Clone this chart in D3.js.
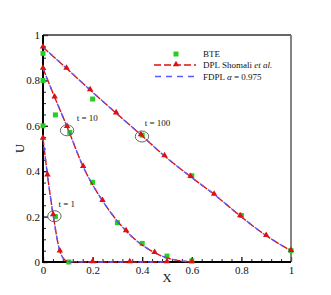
<!DOCTYPE html>
<html>
<head>
<meta charset="utf-8">
<script src="https://cdn.jsdelivr.net/npm/d3@7"></script>
<style>
  html, body { margin: 0; padding: 0; background: #fff; }
  text { font-family: "Liberation Serif", "Times New Roman", serif; fill: #111; }
</style>
</head>
<body>
<svg id="chart" width="331" height="295"></svg>
<script>
// axis ticks
const xTicks = [0, 0.2, 0.4, 0.6, 0.8, 1];
const xTickLabels = ["0", "0.2", "0.4", "0.6", "0.8", "1"];
const yTicks = [0, 0.2, 0.4, 0.6, 0.8, 1];
const yTickLabels = ["0", "0.2", "0.4", "0.6", "0.8", "1"];

// DPL Shomali et al. (line nodes), t = 1, 10, 100
const dplX1 = [0, 0.018, 0.041, 0.068, 0.085, 0.1, 0.2, 0.35, 0.5];
const dplU1 = [0.545, 0.383, 0.207, 0.048, 0.012, 0.002, 0, 0, 0];
const dplX10 = [0, 0.047, 0.097, 0.162, 0.24, 0.335, 0.45, 0.5, 0.55, 0.6];
const dplU10 = [0.853, 0.726, 0.596, 0.42, 0.27, 0.137, 0.041, 0.018, 0.006, 0];
const dplX100 = [0, 0.095, 0.19, 0.295, 0.395, 0.49, 0.595, 0.69, 0.795, 0.9, 1];
const dplU100 = [0.946, 0.853, 0.758, 0.656, 0.56, 0.467, 0.376, 0.298, 0.203, 0.116, 0.05];

// triangle markers on the DPL curves
const markX1 = [0, 0.018, 0.041, 0.068, 0.2, 0.35, 0.5];
const markU1 = [0.545, 0.383, 0.207, 0.048, 0, 0, 0];
const markX10 = [0, 0.047, 0.097, 0.162, 0.24, 0.335, 0.45, 0.6];
const markU10 = [0.853, 0.726, 0.596, 0.42, 0.27, 0.137, 0.041, 0];
const markX100 = dplX100;
const markU100 = dplU100;

// FDPL alpha = 0.975 (overlaps the DPL curves)
const fdplX1 = [0, 0.018, 0.041, 0.068, 0.085, 0.1, 0.2, 0.35, 0.5];
const fdplU1 = [0.545, 0.383, 0.207, 0.048, 0.012, 0.002, 0, 0, 0];
const fdplX10 = [0, 0.047, 0.097, 0.162, 0.24, 0.335, 0.45, 0.5, 0.55, 0.6];
const fdplU10 = [0.853, 0.726, 0.596, 0.42, 0.27, 0.137, 0.041, 0.018, 0.006, 0];
const fdplX100 = [0, 0.095, 0.19, 0.295, 0.395, 0.49, 0.595, 0.69, 0.795, 0.9, 1];
const fdplU100 = [0.946, 0.853, 0.758, 0.656, 0.56, 0.467, 0.376, 0.298, 0.203, 0.116, 0.05];

// BTE squares
const bteX1 = [0, 0.05, 0.104];
const bteU1 = [0.6, 0.2, 0];
const bteX10 = [0, 0.05, 0.108, 0.2, 0.3, 0.4, 0.5, 0.6];
const bteU10 = [0.8, 0.648, 0.571, 0.351, 0.173, 0.082, 0.026, 0.005];
const bteX100 = [0, 0.2, 0.4, 0.6, 0.8, 1];
const bteU100 = [0.919, 0.718, 0.559, 0.38, 0.205, 0.05];

// time annotations: circle centres and label anchors (data units)
const timeLabels = ["t = 1", "t = 10", "t = 100"];
const circleX = [0.046, 0.097, 0.399];
const circleU = [0.202, 0.58, 0.553];
const labelX = [0.062, 0.136, 0.41];
const labelU = [0.244, 0.621, 0.599];

const legendLabels = ["BTE", "DPL Shomali ", "FDPL "];

const red = "#dd1111", blue = "#5a5aff", green = "#22d022";

const svg = d3.select("#chart");
const x = d3.scaleLinear().domain([0, 1]).range([43, 291]);
const y = d3.scaleLinear().domain([0, 1]).range([262, 35]);

const zip = (xs, us) => xs.map((v, i) => [v, us[i]]);

// minor ticks
const minorX = d3.range(0, 1.0001, 0.04).filter(v => Math.abs(v * 5 - Math.round(v * 5)) > 1e-6);
const minorY = d3.range(0, 1.0001, 0.05).filter(v => Math.abs(v * 5 - Math.round(v * 5)) > 1e-6);

svg.append("g")
  .attr("transform", `translate(0,${y(0)})`)
  .call(d3.axisBottom(x).tickValues(minorX).tickSizeInner(-3).tickSizeOuter(0).tickFormat(""))
  .call(g => g.select(".domain").remove())
  .selectAll("line").attr("stroke", "#222");
svg.append("g")
  .attr("transform", `translate(${x(0)},0)`)
  .call(d3.axisLeft(y).tickValues(minorY).tickSizeInner(-3).tickSizeOuter(0).tickFormat(""))
  .call(g => g.select(".domain").remove())
  .selectAll("line").attr("stroke", "#222");

const xAxis = svg.append("g")
  .attr("transform", `translate(0,${y(0)})`)
  .call(d3.axisBottom(x).tickValues(xTicks).tickSizeInner(-5).tickSizeOuter(0).tickPadding(4)
    .tickFormat((d, i) => xTickLabels[i]));
xAxis.select(".domain").remove();
xAxis.selectAll("line").attr("stroke", "#111").attr("stroke-width", 1.3);
xAxis.selectAll("text").attr("font-size", 11).attr("font-family", "Liberation Serif").attr("fill", "#111");

const yAxis = svg.append("g")
  .attr("transform", `translate(${x(0)},0)`)
  .call(d3.axisLeft(y).tickValues(yTicks).tickSizeInner(-5).tickSizeOuter(0).tickPadding(3)
    .tickFormat((d, i) => yTickLabels[i]));
yAxis.select(".domain").remove();
yAxis.selectAll("line").attr("stroke", "#111").attr("stroke-width", 1.3);
yAxis.selectAll("text").attr("font-size", 11).attr("font-family", "Liberation Serif").attr("fill", "#111");

// frame
svg.append("line").attr("x1", x(0)).attr("x2", x(1)).attr("y1", y(1)).attr("y2", y(1))
  .attr("stroke", "#333").attr("stroke-width", 1.4);
svg.append("line").attr("x1", x(1)).attr("x2", x(1)).attr("y1", y(1)).attr("y2", y(0))
  .attr("stroke", "#666").attr("stroke-width", 1.6);
svg.append("line").attr("x1", x(0)).attr("x2", x(0)).attr("y1", y(1)).attr("y2", y(0) + 1)
  .attr("stroke", "#000").attr("stroke-width", 2);
svg.append("line").attr("x1", x(0) - 1).attr("x2", x(1)).attr("y1", y(0)).attr("y2", y(0))
  .attr("stroke", "#000").attr("stroke-width", 2);

// axis titles
svg.append("text").attr("x", x(0.5)).attr("y", 282).attr("text-anchor", "middle")
  .attr("font-size", 12.5).text("X");
svg.append("text").attr("transform", `translate(24,${y(0.5)}) rotate(-90)`)
  .attr("text-anchor", "middle").attr("font-size", 12.5).text("U");

const line = d3.line().x(d => x(d[0])).y(d => y(d[1])).curve(d3.curveMonotoneX);
const plot = svg.append("g");

// BTE squares
[zip(bteX1, bteU1), zip(bteX10, bteU10), zip(bteX100, bteU100)].forEach(pts => {
  plot.selectAll(null).data(pts).enter().append("rect")
    .attr("x", d => x(d[0]) - 2.5).attr("y", d => y(d[1]) - 2.5)
    .attr("width", 5).attr("height", 5).attr("fill", green);
});

// DPL lines
[zip(dplX1, dplU1), zip(dplX10, dplU10), zip(dplX100, dplU100)].forEach(pts => {
  plot.append("path").attr("d", line(pts)).attr("fill", "none")
    .attr("stroke", red).attr("stroke-width", 1.4).attr("stroke-dasharray", "7,3");
});
// FDPL lines
[zip(fdplX1, fdplU1), zip(fdplX10, fdplU10), zip(fdplX100, fdplU100)].forEach(pts => {
  plot.append("path").attr("d", line(pts)).attr("fill", "none")
    .attr("stroke", blue).attr("stroke-width", 1.4).attr("stroke-dasharray", "5,5")
    .attr("stroke-dashoffset", 2);
});

// DPL triangles
const tri = d3.symbol().type(d3.symbolTriangle).size(18);
[zip(markX1, markU1), zip(markX10, markU10), zip(markX100, markU100)].forEach(pts => {
  plot.selectAll(null).data(pts).enter().append("path")
    .attr("d", tri).attr("transform", d => `translate(${x(d[0])},${y(d[1]) - 0.5})`)
    .attr("fill", red);
});

// time annotations
timeLabels.forEach((lab, i) => {
  svg.append("ellipse").attr("cx", x(circleX[i])).attr("cy", y(circleU[i]))
    .attr("rx", 6.7).attr("ry", 5.5).attr("fill", "none")
    .attr("stroke", "#555").attr("stroke-width", 0.9);
  svg.append("text").attr("x", x(labelX[i])).attr("y", y(labelU[i]))
    .attr("font-size", 9).text(lab);
});

// legend
const lg = svg.append("g");
const rowY = [54, 65, 76.5];
lg.append("rect").attr("x", 176 - 2.5).attr("y", rowY[0] - 2.5).attr("width", 5).attr("height", 5).attr("fill", green);
lg.append("line").attr("x1", 154).attr("x2", 196).attr("y1", rowY[1]).attr("y2", rowY[1])
  .attr("stroke", red).attr("stroke-width", 1.4).attr("stroke-dasharray", "7,3");
lg.append("path").attr("d", tri).attr("transform", `translate(176,${rowY[1] - 0.5})`).attr("fill", red);
lg.append("line").attr("x1", 155).attr("x2", 196).attr("y1", rowY[2]).attr("y2", rowY[2])
  .attr("stroke", blue).attr("stroke-width", 1.4).attr("stroke-dasharray", "6,5");

lg.append("text").attr("x", 203).attr("y", rowY[0] + 3).attr("font-size", 9).text(legendLabels[0]);
const t2 = lg.append("text").attr("x", 203).attr("y", rowY[1] + 3).attr("font-size", 9);
t2.append("tspan").text(legendLabels[1]);
t2.append("tspan").attr("font-style", "italic").text("et al.");
const t3 = lg.append("text").attr("x", 203).attr("y", rowY[2] + 3).attr("font-size", 9);
t3.append("tspan").text(legendLabels[2]);
t3.append("tspan").attr("font-style", "italic").text("α");
t3.append("tspan").text(" = 0.975");
</script>
</body>
</html>
